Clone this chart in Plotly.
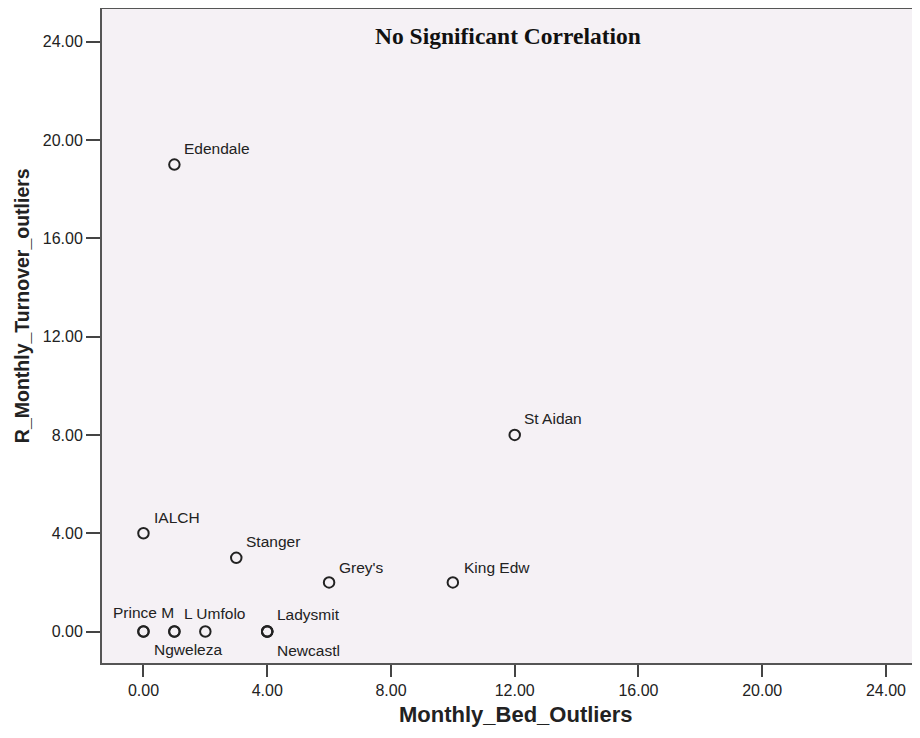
import plotly.graph_objects as go

names = ["Edendale", "St Aidan", "IALCH", "Stanger", "Grey's", "King Edw",
         "Prince M", "Ngweleza", "L Umfolo", "Ladysmit", "Newcastl"]
bed_outliers = [1, 12, 0, 3, 6, 10, 0, 1, 2, 4, 4]
turnover_outliers = [19, 8, 4, 3, 2, 2, 0, 0, 0, 0, 0]
# extra overlapping cases (drawn as same circles)
dup_x = [0, 1, 4]
dup_y = [0, 0, 0]

ticks = [0, 4, 8, 12, 16, 20, 24]
ticktext = ["%.2f" % t for t in ticks]

# label offsets in pixels (xshift, yshift, anchor)
label_style = {
    "Edendale": (8, 16, "left"),
    "St Aidan": (7, 16, "left"),
    "IALCH": (9, 16, "left"),
    "Stanger": (8, 16, "left"),
    "Grey's": (8, 15, "left"),
    "King Edw": (9, 15, "left"),
    "Prince M": (0, 19.5, "center"),
    "Ngweleza": (-22, -17.5, "left"),
    "L Umfolo": (-23, 18.5, "left"),
    "Ladysmit": (8, 17.5, "left"),
    "Newcastl": (8, -18.5, "left"),
}

fig = go.Figure()
fig.add_trace(go.Scatter(
    x=bed_outliers + dup_x, y=turnover_outliers + dup_y, mode="markers",
    marker=dict(symbol="circle-open", size=10.5, color="#222222",
                line=dict(width=2, color="#222222")),
    hoverinfo="skip", showlegend=False))

for n, xv, yv in zip(names, bed_outliers, turnover_outliers):
    xs, ys, anc = label_style[n]
    fig.add_annotation(x=xv, y=yv, text=n, showarrow=False, xanchor=anc,
                       yanchor="middle", xshift=xs, yshift=ys,
                       font=dict(family="Liberation Sans, Arial", size=15.5, color="#222222"))

fig.add_annotation(x=11.79, y=24.23, xref="x", yref="y", text="<b>No Significant Correlation</b>",
                   showarrow=False, xanchor="center", yanchor="middle",
                   font=dict(family="Liberation Serif, Times New Roman", size=23.5, color="#111111"))

# axis titles
fig.add_annotation(x=12.02, y=0, xref="x", yref="paper", yshift=-51,
                   text="<b>Monthly_Bed_Outliers</b>", showarrow=False,
                   xanchor="center", yanchor="middle",
                   font=dict(family="Liberation Sans, Arial", size=22, color="#222222"))
fig.add_annotation(x=0, y=13.24, xref="paper", yref="y", xshift=-80,
                   text="<b>R_Monthly_Turnover_outliers</b>", showarrow=False, textangle=-90,
                   xanchor="center", yanchor="middle",
                   font=dict(family="Liberation Sans, Arial", size=19.5, color="#222222"))

fig.update_layout(
    width=912, height=730,
    margin=dict(l=94, r=0, t=1, b=75),
    paper_bgcolor="white", plot_bgcolor="#F5F1F5",
    font=dict(family="Liberation Sans, Arial", size=16, color="#222222"),
    xaxis=dict(range=[-1.34, 25.1], tickvals=ticks, ticktext=ticktext,
               showgrid=False, zeroline=False, showline=True, linecolor="#555555",
               linewidth=2, mirror=True, ticks="outside", ticklen=12, tickwidth=2,
               tickcolor="#444444", tickfont=dict(size=16)),
    yaxis=dict(range=[-1.28, 25.33], tickvals=ticks, ticktext=ticktext,
               showgrid=False, zeroline=False, showline=True, linecolor="#555555",
               linewidth=2, ticks="outside", ticklen=14, tickwidth=2, tickcolor="#444444",
               tickfont=dict(size=16)),
)

fig.write_html("out.html")
